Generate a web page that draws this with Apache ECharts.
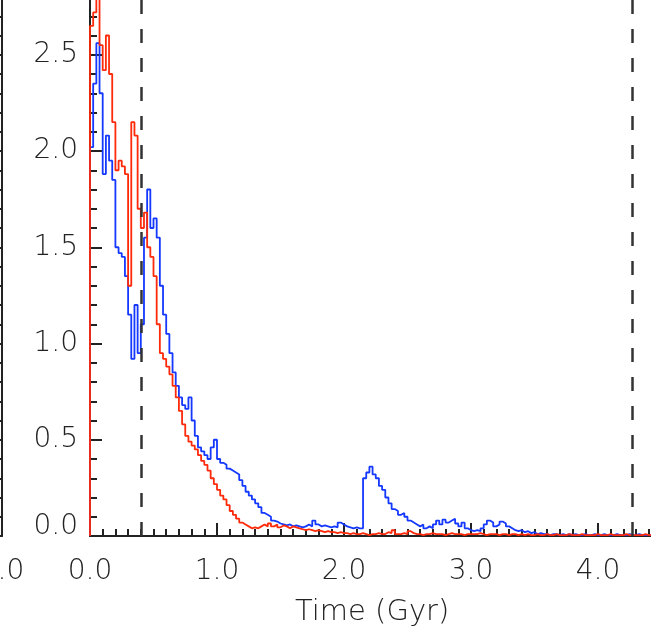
<!DOCTYPE html>
<html>
<head>
<meta charset="utf-8">
<script src="https://cdn.jsdelivr.net/npm/echarts@6/dist/echarts.min.js"></script>
<style>html,body{margin:0;padding:0;background:#fff}#c{width:651px;height:634px}</style>
</head>
<body>
<div id="c"></div>
<script>
// Histogram bins of 0.025 Gyr starting at t = 0
const binWidth = 0.025;
const redRate = [
  2.65, 2.72, 2.88, 2.55, 2.42, 2.6, 2.4, 2.15, 1.9, 1.95,
  1.92, 1.88, 1.3, 2.15, 2.08, 1.7, 1.6, 1.68, 1.5, 1.45,
  1.35, 1.1, 0.95, 0.92, 0.88, 0.84, 0.78, 0.72, 0.65, 0.58,
  0.52, 0.49, 0.47, 0.45, 0.42, 0.39, 0.37, 0.34, 0.30, 0.27,
  0.24, 0.21, 0.19, 0.16, 0.13, 0.11, 0.09, 0.07, 0.06, 0.05,
  0.04, 0.045, 0.04, 0.05, 0.06, 0.05, 0.065, 0.05, 0.06, 0.045,
  0.055, 0.05, 0.04, 0.05, 0.045, 0.04, 0.035, 0.03, 0.035, 0.03,
  0.025, 0.03, 0.025, 0.02, 0.025, 0.02, 0.02, 0.015, 0.02, 0.015,
  0.015, 0.01, 0.015, 0.01, 0.01, 0.015, 0.01, 0.005, 0.01, 0.01,
  0.015, 0.01, 0.01, 0.02, 0.015, 0.03, 0.01, 0.01, 0.015, 0.01,
  0.025, 0.015, 0.01, 0.01, 0.005, 0.01, 0.01, 0.015, 0.01, 0.01,
  0.01, 0.005, 0.01, 0.015, 0.01, 0.01, 0.01, 0.005, 0.01, 0.01,
  0.01, 0.01, 0.015, 0.01, 0.005, 0.01, 0.01, 0.01, 0.005, 0.01,
  0.01, 0.005, 0.01, 0.01, 0.005, 0.01, 0.005, 0.01, 0.005, 0.005,
  0.01, 0.005, 0.005, 0.01, 0.005, 0.005, 0.01, 0.005, 0.005, 0.005,
  0.01, 0.005, 0.005, 0.005, 0.01, 0.005, 0.005, 0.005, 0.005, 0.01,
  0.005, 0.005, 0.005, 0.01, 0.005, 0.005, 0.005, 0.005, 0.01, 0.005,
  0.005, 0.005, 0.005, 0.005, 0.01, 0.005, 0.005, 0.005, 0.005, 0.005,
  0.01, 0.005, 0.005, 0.005
];
const blueRate = [
  2.02, 2.35, 2.56, 2.3, 1.88, 2.08, 1.95, 1.85, 1.5, 1.47,
  1.45, 1.35, 1.15, 0.92, 1.2, 0.95, 1.1, 1.55, 1.8, 1.6,
  1.65, 1.55, 1.3, 1.15, 1.05, 0.95, 0.85, 0.78, 0.72, 0.68,
  0.66, 0.72, 0.6, 0.52, 0.46, 0.44, 0.42, 0.4, 0.46, 0.5,
  0.4, 0.38, 0.37, 0.35, 0.34, 0.33, 0.32, 0.29, 0.26, 0.23,
  0.21, 0.19, 0.17, 0.15, 0.12, 0.11, 0.1, 0.08, 0.075, 0.065,
  0.06, 0.055, 0.06, 0.05, 0.055, 0.05, 0.045, 0.05, 0.06, 0.05,
  0.08, 0.06, 0.05, 0.055, 0.05, 0.045, 0.05, 0.045, 0.07, 0.06,
  0.05, 0.045, 0.04, 0.045, 0.04, 0.04, 0.3, 0.33, 0.36, 0.32,
  0.3, 0.26, 0.24, 0.2, 0.17, 0.14, 0.13, 0.11, 0.12, 0.1,
  0.08, 0.07, 0.06, 0.05, 0.06, 0.04, 0.05, 0.04, 0.06, 0.08,
  0.06, 0.085, 0.07, 0.08, 0.09, 0.065, 0.05, 0.07, 0.04, 0.03,
  0.025, 0.03, 0.025, 0.04, 0.06, 0.08, 0.07, 0.05, 0.06, 0.075,
  0.065, 0.05, 0.04, 0.03, 0.025, 0.03, 0.02, 0.025, 0.015, 0.02,
  0.01, 0.015, 0.01, 0.01, 0.005, 0.01, 0.01, 0.005, 0.01, 0.005,
  0.01, 0.005, 0.01, 0.005, 0.005, 0.01, 0.005, 0.005, 0.01, 0.005,
  0.005, 0.01, 0.005, 0.005, 0.005, 0.01, 0.005, 0.005, 0.005, 0.01,
  0.005, 0.005, 0.01, 0.005, 0.005, 0.005, 0.005, 0.01, 0.005, 0.005,
  0.005, 0.01, 0.005, 0.005
];
const dashedTimes = [0.4, 4.27];
const xTickLabels = ['0.0', '1.0', '2.0', '3.0', '4.0'];
const xTitle = 'Time (Gyr)';

function toPairs(vals) {
  const pts = [[0, 0]];
  vals.forEach((v, i) => pts.push([+(i * binWidth).toFixed(3), v]));
  return pts;
}

const INK = '#222';
const FONT = "'DejaVu Sans', sans-serif";
const chart = echarts.init(document.getElementById('c'), null, { renderer: 'canvas' });

const axisLine = { show: true, onZero: false, lineStyle: { color: INK, width: 2 } };

chart.setOption({
  animation: false,
  backgroundColor: '#fff',
  grid: [
    { left: 90, top: -41.5, width: 584.2, height: 577.5, containLabel: false, outerBoundsMode: 'none' },
    { left: -500, top: -41.5, width: 502, height: 577.5, containLabel: false, outerBoundsMode: 'none' }
  ],
  xAxis: [
    {
      type: 'value', gridIndex: 0, min: 0, max: 4.6, interval: 1,
      axisLine: axisLine,
      axisTick: { show: true, inside: true, length: 13, lineStyle: { color: INK, width: 2 } },
      minorTick: { show: true, splitNumber: 10, length: 7, lineStyle: { color: INK, width: 2 } },
      splitLine: { show: false },
      axisLabel: {
        show: true, margin: 22, color: INK, fontFamily: FONT, fontSize: 28, fontWeight: 200,
        formatter: v => xTickLabels[Math.round(v)] || ''
      },
      name: xTitle, nameLocation: 'middle', nameGap: 62,
      nameTextStyle: { color: INK, fontFamily: FONT, fontSize: 29, fontWeight: 200, padding: [0, 20, 0, 0] }
    },
    {
      type: 'value', gridIndex: 1, min: 0, max: 4, interval: 1,
      axisLine: axisLine,
      axisTick: { show: true, inside: true, length: 13, lineStyle: { color: INK, width: 2 } },
      splitLine: { show: false },
      axisLabel: { show: true, margin: 22, color: INK, fontFamily: FONT, fontSize: 28, fontWeight: 200,
        formatter: v => v.toFixed(1) }
    }
  ],
  yAxis: [
    {
      type: 'value', gridIndex: 0, min: 0, max: 3, interval: 0.5,
      axisLine: axisLine,
      axisTick: { show: true, inside: true, length: 12, lineStyle: { color: INK, width: 2 } },
      minorTick: { show: true, splitNumber: 5, length: 7, lineStyle: { color: INK, width: 2 } },
      splitLine: { show: false },
      axisLabel: {
        show: true, margin: 12, color: INK, fontFamily: FONT, fontSize: 28, fontWeight: 200,
        formatter: v => v === 0 ? '{lo|0.0}' : '{n|' + v.toFixed(1) + '}',
        rich: {
          lo: { color: INK, fontFamily: FONT, fontSize: 28, fontWeight: 200, padding: [0, 0, 18, 0] },
          n: { color: INK, fontFamily: FONT, fontSize: 28, fontWeight: 200 }
        }
      }
    },
    {
      type: 'value', gridIndex: 1, min: 0, max: 3, interval: 0.5, position: 'right',
      axisLine: axisLine,
      axisTick: { show: true, inside: true, length: 12, lineStyle: { color: INK, width: 2 } },
      minorTick: { show: true, splitNumber: 5, length: 7, lineStyle: { color: INK, width: 2 } },
      splitLine: { show: false },
      axisLabel: { show: false }
    }
  ],
  series: [
    {
      type: 'line', xAxisIndex: 0, yAxisIndex: 0, step: 'end', showSymbol: false,
      data: toPairs(blueRate),
      lineStyle: { color: '#1438ff', width: 1.8 }, z: 3,
      markLine: {
        silent: true, symbol: ['none', 'none'], label: { show: false },
        lineStyle: { color: '#333', width: 2.5, type: [14, 15] },
        data: dashedTimes.map(t => ({ xAxis: t }))
      }
    },
    {
      type: 'line', xAxisIndex: 0, yAxisIndex: 0, step: 'end', showSymbol: false,
      data: toPairs(redRate),
      lineStyle: { color: '#ff2a0a', width: 1.8 }, z: 4
    }
  ]
});
</script>
</body>
</html>
